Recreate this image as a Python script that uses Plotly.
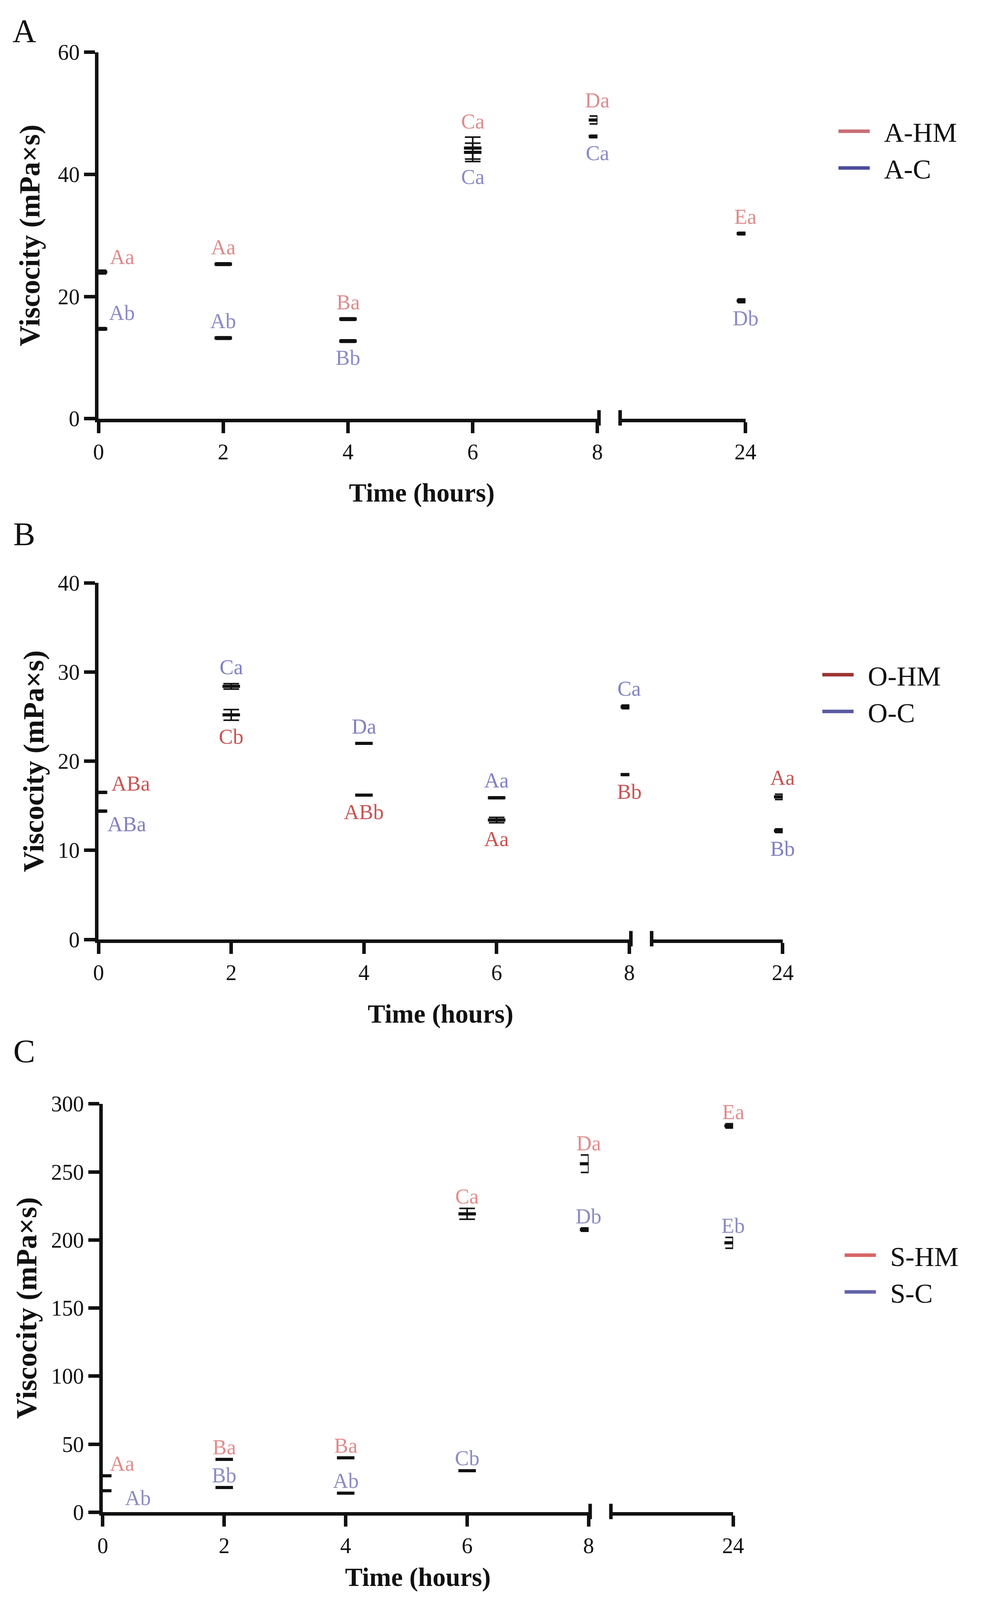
import plotly.graph_objects as go

W, H = 2559, 4255

# sampling times (hours)
times = [0, 2, 4, 6, 8, 24]

# Panel A
a_hm = [24.0, 25.3, 16.3, 44.3, 48.9, 30.3]
a_hm_err = [0.3, 0.2, 0.2, 1.8, 0.65, 0.2]
a_c = [14.7, 13.2, 12.7, 43.6, 46.2, 19.3]
a_c_err = [0.2, 0.2, 0.2, 1.5, 0.2, 0.3]
a_hm_labels = ["Aa", "Aa", "Ba", "Ca", "Da", "Ea"]
a_c_labels = ["Ab", "Ab", "Bb", "Ca", "Ca", "Db"]

# Panel B
b_hm = [16.5, 25.2, 16.2, 13.4, 18.5, 16.0]
b_hm_err = [0.1, 0.6, 0.05, 0.3, 0.1, 0.3]
b_c = [14.4, 28.4, 22.0, 15.9, 26.1, 12.2]
b_c_err = [0.1, 0.3, 0.05, 0.1, 0.2, 0.2]
b_hm_labels = ["ABa", "Cb", "ABb", "Aa", "Bb", "Aa"]
b_c_labels = ["ABa", "Ca", "Da", "Aa", "Ca", "Bb"]

# Panel C
c_hm = [26.8, 38.8, 40.0, 219.2, 256.0, 283.8]
c_hm_err = [0.3, 0.4, 0.4, 4.0, 6.4, 1.6]
c_c = [15.8, 18.2, 14.0, 30.5, 207.6, 197.9]
c_c_err = [0.3, 0.3, 0.3, 0.5, 1.2, 4.0]
c_hm_labels = ["Aa", "Ba", "Ba", "Ca", "Da", "Ea"]
c_c_labels = ["Ab", "Bb", "Ab", "Cb", "Db", "Eb"]

FONT = "Liberation Serif"
INK = "#111111"

# geometry / style of each panel (pixels in the 2559x4255 page)
panels = [
    dict(letter="A", letter_y=42, ymax=60, dtick=20, standoff=26,
         yaxis_x=234, x8=1532, seg2=(1591, 1917), ytop=97, ybot=1049,
         xtitle_y=1242, legend_x=2154, legend_y=350, gap=40,
         series=[("A-HM", a_hm, a_hm_err, a_hm_labels, [1, 1, 1, 1, 1, 1],
                  "#c86e76", "#dc8c8c", (60, 34)),
                 ("A-C", a_c, a_c_err, a_c_labels, [1, 1, -1, -1, -1, -1],
                  "#4c4c9a", "#8a8ac6", (60, 38))]),
    dict(letter="B", letter_y=1349, ymax=40, dtick=10, standoff=16,
         yaxis_x=234, x8=1615, seg2=(1673, 2014), ytop=1476, ybot=2402,
         xtitle_y=2595, legend_x=2112, legend_y=1762, gap=42,
         series=[("O-HM", b_hm, b_hm_err, b_hm_labels, [1, -1, -1, -1, -1, 1],
                  "#9c3434", "#c85454", (82, 20)),
                 ("O-C", b_c, b_c_err, b_c_labels, [-1, 1, 1, 1, 1, -1],
                  "#5a5aa2", "#8080c2", (72, -31))]),
    dict(letter="C", letter_y=2693, ymax=300, dtick=50, standoff=16,
         yaxis_x=245, x8=1509, seg2=(1567, 1885), ytop=2829, ybot=3890,
         xtitle_y=4059, legend_x=2170, legend_y=3270, gap=30,
         series=[("S-HM", c_hm, c_hm_err, c_hm_labels, [1, 1, 1, 1, 1, 1],
                  "#d66464", "#e28c8c", (50, 30)),
                 ("S-C", c_c, c_c_err, c_c_labels, [-1, 1, 1, 1, 1, 1],
                  "#6464aa", "#8c8cc2", (90, -18))]),
]

fig = go.Figure()
layout = dict(width=W, height=H, margin=dict(l=0, r=0, t=0, b=0),
              paper_bgcolor="white", plot_bgcolor="white", showlegend=True)
annotations = []
shapes = []

tick_font = dict(family=FONT, size=56, color=INK)

for i, p in enumerate(panels):
    n1, n2, ny = 2 * i + 1, 2 * i + 2, i + 1
    xa = "x" if n1 == 1 else f"x{n1}"
    xb = f"x{n2}"
    ya = "y" if ny == 1 else f"y{ny}"
    leg = "legend" if ny == 1 else f"legend{ny}"

    ydom = [1 - p["ybot"] / H, 1 - p["ytop"] / H]
    common_x = dict(showline=True, linewidth=9, linecolor=INK, ticks="outside",
                    ticklen=28, tickwidth=9, tickcolor=INK, showgrid=False,
                    zeroline=False, tickfont=tick_font, anchor=ya)
    layout[f"xaxis{n1}"] = dict(common_x, domain=[p["yaxis_x"] / W, p["x8"] / W],
                                range=[0, 8], tickvals=times[:5])
    layout[f"xaxis{n2}"] = dict(common_x, domain=[p["seg2"][0] / W, p["seg2"][1] / W],
                                range=[22, 24], tickvals=[24])
    layout[f"yaxis{ny}"] = dict(domain=ydom, range=[0, p["ymax"]], dtick=p["dtick"],
                                showline=True, linewidth=9, linecolor=INK,
                                ticks="outside", ticklen=28, tickwidth=9,
                                tickcolor=INK, showgrid=False, zeroline=False,
                                tickfont=tick_font, anchor=xa,
                                title=dict(text="Viscocity (mPa×s)",
                                           standoff=p["standoff"],
                                           font=dict(family=FONT, size=74,
                                                     color=INK, weight="bold")))
    layout[leg] = dict(x=p["legend_x"] / W, y=1 - p["legend_y"] / H,
                       xanchor="left", yanchor="middle",
                       bgcolor="rgba(0,0,0,0)", itemwidth=80,
                       font=dict(family=FONT, size=70, color=INK),
                       tracegroupgap=10)

    for name, vals, errs, labels, sides, line_col, lab_col, t0_shift in p["series"]:
        # legend entry (coloured line)
        fig.add_trace(go.Scatter(x=[None], y=[None], mode="lines",
                                 name="\u00a0\u2009" + name,
                                 line=dict(color=line_col, width=9), legend=leg,
                                 xaxis=xa, yaxis=ya))
        for ax, idx in ((xa, range(0, 5)), (xb, range(5, 6))):
            fig.add_trace(go.Scatter(
                x=[times[k] for k in idx], y=[vals[k] for k in idx],
                mode="markers", showlegend=False, xaxis=ax, yaxis=ya,
                marker=dict(symbol="line-ew", size=32, color=INK,
                            line=dict(width=8, color=INK)),
                error_y=dict(type="data", array=[errs[k] for k in idx],
                             color=INK, thickness=4, width=20)))
        for k, t in enumerate(times):
            ax = xb if t == 24 else xa
            if t == 0:
                dx, dy = t0_shift
            else:
                dx, dy = 0, sides[k] * p["gap"]
            annotations.append(dict(
                x=t, y=vals[k] + sides[k] * errs[k], xref=ax, yref=ya,
                text=labels[k], showarrow=False, xshift=dx, yshift=dy,
                xanchor="center", yanchor="middle",
                font=dict(family=FONT, size=54, color=lab_col)))

    # axis break bars
    yb0 = 1 - (p["ybot"] + 18) / H
    yb1 = 1 - (p["ybot"] - 22) / H
    for bx in (p["x8"] + 4, p["seg2"][0]):
        shapes.append(dict(type="line", xref="paper", yref="paper",
                           x0=bx / W, x1=bx / W, y0=yb0, y1=yb1,
                           line=dict(color=INK, width=9)))

    # panel letter and x title
    annotations.append(dict(x=41 / W, y=1 - p["letter_y"] / H, xref="paper",
                            yref="paper", text=p["letter"], showarrow=False,
                            xanchor="center", yanchor="middle",
                            font=dict(family=FONT, size=84, color=INK)))
    xmid = (p["yaxis_x"] + p["seg2"][1]) / 2
    annotations.append(dict(x=xmid / W, y=1 - p["xtitle_y"] / H, xref="paper",
                            yref="paper", text="<b>Time (hours)</b>",
                            showarrow=False, xanchor="center", yanchor="middle",
                            font=dict(family=FONT, size=67, color=INK)))

layout["annotations"] = annotations
layout["shapes"] = shapes
fig.update_layout(**layout)

fig.write_html("out.html")
